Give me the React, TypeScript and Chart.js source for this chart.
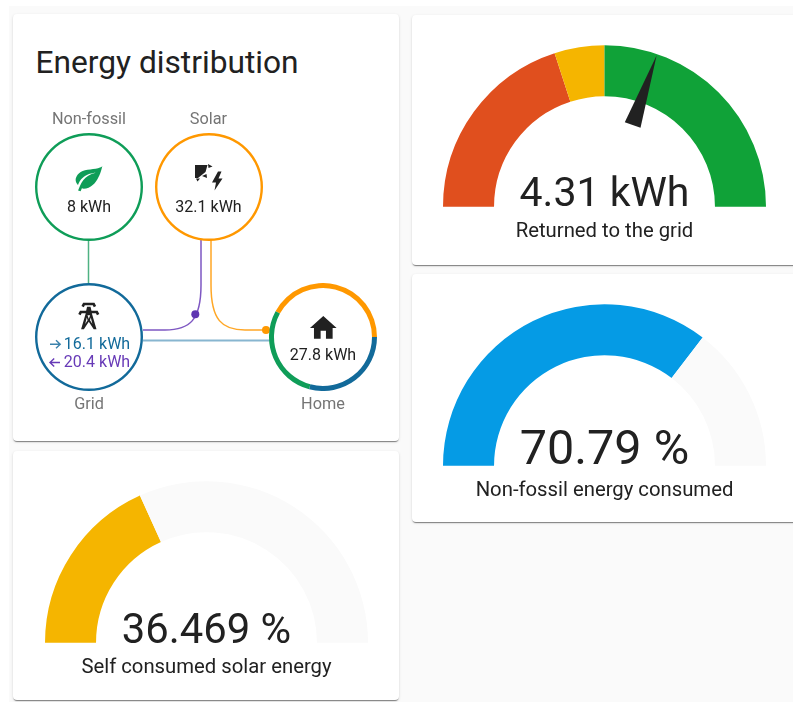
import React, { useEffect, useRef } from "react";
import { Chart, registerables } from "chart.js";

Chart.register(...registerables);

// ---- data ----
const gridBalance = 4.31;
const gridBalanceRange = 20.4;
const gridSeverityValues = [16.32, 4.08, 20.4];
const gridSeverityColors = ["#e04f1e", "#f5b500", "#10a238"];
const nonFossilPct = 70.79;
const selfConsumedPct = 36.469;
const homeSources = [11.7, 8.1, 8];
const homeSourceColors = ["#ff9800", "#126a9a", "#0f9d58"];
const TRACK = "#fafafa";

const FONT = "Roboto, sans-serif";

const needlePlugin = {
  id: "needle",
  afterDraw(chart: any, _a: any, opts: any) {
    if (opts.fraction == null) return;
    const arc = chart.getDatasetMeta(0).data[0];
    const { x, y, outerRadius } = arc;
    const ang = Math.PI + opts.fraction * Math.PI;
    const ux = Math.cos(ang);
    const uy = Math.sin(ang);
    const tip = outerRadius * 0.99;
    const base = outerRadius * 0.535;
    const hw = 8.3;
    const c = chart.ctx;
    c.save();
    c.fillStyle = "#212121";
    c.beginPath();
    c.moveTo(x + ux * tip, y + uy * tip);
    c.lineTo(x + ux * base - uy * hw, y + uy * base + ux * hw);
    c.lineTo(x + ux * base + uy * hw, y + uy * base - ux * hw);
    c.closePath();
    c.fill();
    c.restore();
  },
};

function Donut(props: {
  left: number;
  top: number;
  width: number;
  height: number;
  values: number[];
  colors: string[];
  cutout: string | number;
  rotation: number;
  circumference: number;
  needle?: number;
}) {
  const ref = useRef<HTMLCanvasElement>(null);
  useEffect(() => {
    const chart = new Chart(ref.current as HTMLCanvasElement, {
      type: "doughnut",
      data: {
        datasets: [
          { data: props.values, backgroundColor: props.colors, borderWidth: 0 },
        ],
      },
      options: {
        animation: false,
        responsive: false,
        cutout: props.cutout,
        rotation: props.rotation,
        circumference: props.circumference,
        layout: { padding: 0 },
        plugins: {
          legend: { display: false },
          tooltip: { enabled: false },
          needle: { fraction: props.needle ?? null },
        },
      } as any,
      plugins: [needlePlugin],
    });
    return () => chart.destroy();
  }, []);
  return (
    <canvas
      ref={ref}
      width={props.width}
      height={props.height}
      style={{
        position: "absolute",
        left: props.left,
        top: props.top,
        width: props.width,
        height: props.height,
        display: "block",
      }}
    />
  );
}

function Gauge(props: {
  left: number;
  baseline: number;
  values: number[];
  colors: string[];
  needle?: number;
  value: string;
  name: string;
  valueTop: number;
  valueSize: number;
  nameTop: number;
}) {
  const cx = props.left + 161.5;
  return (
    <>
      <Donut
        left={props.left}
        top={props.baseline - 162}
        width={323}
        height={162}
        values={props.values}
        colors={props.colors}
        cutout="68.4%"
        rotation={-90}
        circumference={180}
        needle={props.needle}
      />
      <Text x={cx} y={props.valueTop} size={props.valueSize} color="#212121">
        {props.value}
      </Text>
      <Text x={cx} y={props.nameTop} size={20.3} color="#212121">
        {props.name}
      </Text>
    </>
  );
}

function Text(props: {
  x: number;
  y: number;
  size: number;
  color: string;
  children: React.ReactNode;
}) {
  return (
    <div
      style={{
        position: "absolute",
        left: props.x - 200,
        width: 400,
        top: props.y - props.size,
        height: props.size * 2,
        lineHeight: `${props.size * 2}px`,
        textAlign: "center",
        fontFamily: FONT,
        fontSize: props.size,
        color: props.color,
        whiteSpace: "nowrap",
      }}
    >
      {props.children}
    </div>
  );
}

function Card(props: { l: number; t: number; w: number; h: number }) {
  return (
    <div
      style={{
        position: "absolute",
        left: props.l,
        top: props.t,
        width: props.w,
        height: props.h,
        background: "#fff",
        borderRadius: 4,
        boxShadow:
          "0 2px 1px -1px rgba(0,0,0,.35), 0 1px 1px 0 rgba(0,0,0,.14), 0 1px 3px 0 rgba(0,0,0,.12)",
      }}
    />
  );
}

const ICON_LEAF =
  "M17,8C8,10 5.9,16.17 3.82,21.34L5.71,22L6.66,19.7C7.14,19.87 7.64,20 8,20C19,20 22,3 22,3C21,5 14,5.25 9,6.25C4,7.25 2,11.5 2,13.5C2,15.5 3.75,17.25 3.75,17.25C7,8 17,8 17,8Z";
const ICON_HOME = "M10,20V14H14V20H19V12H22L12,3L2,12H5V20H10Z";
const ICON_TOWER =
  "M8.28,5.45L6.5,4.55L7.76,2H16.24L17.5,4.55L15.72,5.44L15,4H9L8.28,5.45Z" +
  "M18.62,8H5.38L4.1,10.55L5.89,11.44L6.62,10H17.38L18.1,11.45L19.89,10.56Z" +
  "M10.7,5H13.3L14,8H10Z" +
  "M9.73,10H14.27L17.77,22H15.7L12,16.4L8.3,22H6.23Z" +
  "M11,11.5L12,14.2L13,11.5Z" +
  "M10.5,13.2L11.1,15.2L9.3,18Z" +
  "M13.5,13.2L12.9,15.2L14.7,18Z";

function Flows() {
  return (
    <svg
      width={793}
      height={702}
      style={{ position: "absolute", left: 0, top: 0 }}
    >
      <path d="M88.5,240V283" stroke="#4fb283" strokeWidth={1.5} fill="none" />
      <path
        d="M143,330H165C190,330 201,320 201,285V240"
        stroke="#7e57c2"
        strokeWidth={1.5}
        fill="none"
      />
      <circle cx={195.3} cy={314.3} r={4} fill="#5e35b1" />
      <path
        d="M211,240V285C211,320 222,330 245,330H270"
        stroke="#ffa726"
        strokeWidth={1.5}
        fill="none"
      />
      <circle cx={266} cy={330} r={4} fill="#ff9800" />
      <path d="M143,340.5H270" stroke="#88b6d0" strokeWidth={2} fill="none" />
      <path d={ICON_LEAF} transform="translate(73,162) scale(1.333)" fill="#0f9d58" />
      <path d={ICON_HOME} transform="translate(307.3,312) scale(1.333)" fill="#212121" />
      <path d={ICON_TOWER} transform="translate(72.8,300) scale(1.333)" fill="#212121" fillRule="evenodd" />
      <g fill="#212121">
        <path d="M195,165H207.5L205.5,172L198,178H195Z" />
        <path d="M208,164L212.5,166.5L208.5,168Z" />
        <path d="M196,178.5L200,178.5L197.5,181.5Z" />
        <path d="M202,176L206.5,174L207,178Z" />
        <path d="M218,171.5L212,182.5H216L214.5,190.5L222.5,178.5H218.5L221.5,171.5Z" />
      </g>
      <g stroke="#3b82ac" strokeWidth={1.4} fill="none">
        <path d="M50,344.3H60M56,340.3L60.2,344.3L56,348.3" />
      </g>
      <g stroke="#673ab7" strokeWidth={1.4} fill="none">
        <path d="M50,362.5H60M54.2,358.5L50,362.5L54.2,366.5" />
      </g>
    </svg>
  );
}

export default function App() {
  useEffect(() => {
    document.body.style.margin = "0";
    document.body.style.background = "#fff";
  }, []);
  return (
    <div
      style={{
        position: "absolute",
        left: 0,
        top: 0,
        width: 793,
        height: 702,
        overflow: "hidden",
        background: "#fff",
        filter: "blur(0.45px)",
      }}
    >
      <div
        style={{
          position: "absolute",
          left: 9,
          top: 6,
          width: 784,
          height: 696,
          background: "#fafafa",
        }}
      />
      <Card l={13} t={14} w={386} h={427} />
      <Card l={412} t={15} w={400} h={250} />
      <Card l={412} t={274} w={400} h={248} />
      <Card l={13} t={451} w={386} h={249} />

      <div
        style={{
          position: "absolute",
          left: 35.5,
          top: 41,
          fontFamily: FONT,
          fontSize: 31.7,
          lineHeight: "44px",
          color: "#212121",
          whiteSpace: "nowrap",
        }}
      >
        Energy distribution
      </div>

      <Flows />

      <Donut left={35} top={133} width={108} height={108} values={[1]} colors={["#0f9d58"]} cutout={51.6} rotation={0} circumference={360} />
      <Donut left={154.5} top={133} width={108} height={108} values={[1]} colors={["#ff9800"]} cutout={51.6} rotation={0} circumference={360} />
      <Donut left={35} top={283} width={108} height={108} values={[1]} colors={["#126a9a"]} cutout={51.6} rotation={0} circumference={360} />
      <Donut left={269} top={283} width={108} height={108} values={homeSources} colors={homeSourceColors} cutout={49} rotation={-61.5} circumference={360} />

      <Text x={89} y={119} size={16.3} color="#757575">Non-fossil</Text>
      <Text x={208.5} y={119} size={16.3} color="#757575">Solar</Text>
      <Text x={89} y={404.5} size={16.3} color="#757575">Grid</Text>
      <Text x={323} y={404.5} size={16.3} color="#757575">Home</Text>

      <Text x={89} y={206.5} size={16} color="#212121">8 kWh</Text>
      <Text x={208.5} y={206.5} size={16} color="#212121">32.1 kWh</Text>
      <Text x={323} y={355} size={16} color="#212121">27.8 kWh</Text>
      <Text x={97} y={344} size={16} color="#126a9a">16.1 kWh</Text>
      <Text x={97} y={362} size={16} color="#673ab7">20.4 kWh</Text>

      <Gauge
        left={443}
        baseline={207}
        values={gridSeverityValues}
        colors={gridSeverityColors}
        needle={(gridBalance + gridBalanceRange) / (2 * gridBalanceRange)}
        value="4.31 kWh"
        valueSize={41}
        name="Returned to the grid"
        valueTop={192}
        nameTop={230}
      />
      <Gauge
        left={443}
        baseline={466}
        values={[nonFossilPct, 100 - nonFossilPct]}
        colors={["#059be5", TRACK]}
        value="70.79 %"
        valueSize={48.5}
        name="Non-fossil energy consumed"
        valueTop={447}
        nameTop={489}
      />
      <Gauge
        left={45}
        baseline={643}
        values={[selfConsumedPct, 100 - selfConsumedPct]}
        colors={["#f5b500", TRACK]}
        value="36.469 %"
        valueSize={41.8}
        name="Self consumed solar energy"
        valueTop={629}
        nameTop={666}
      />
    </div>
  );
}
